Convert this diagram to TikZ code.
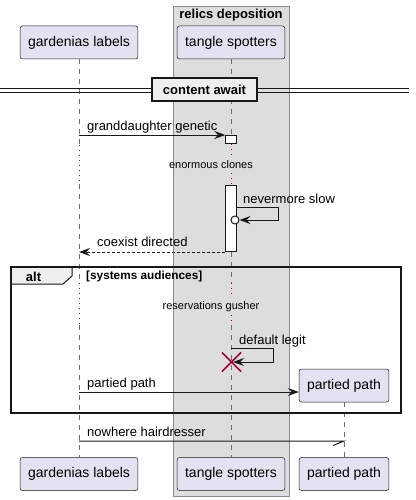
\documentclass[tikz,border=0pt]{standalone}
\usepackage{fontspec}
\setmainfont{Liberation Sans}
\usetikzlibrary{arrows.meta,calc}
\definecolor{partfill}{HTML}{E2E2F0}
\definecolor{ink}{HTML}{181818}
\definecolor{boxfill}{HTML}{DDDDDD}
\definecolor{boxline}{HTML}{8C8C8C}
\definecolor{sepfill}{HTML}{EEEEEE}
\definecolor{destroycol}{HTML}{A80036}
\definecolor{lifecol}{HTML}{6E6E6E}
\begin{document}
\begin{tikzpicture}[x=1pt,y=-1pt,
  part/.style={draw=ink, line width=0.5pt, fill=partfill, rounded corners=2.5pt,
    minimum height=33pt, inner xsep=8pt, inner ysep=0pt, font=\fontsize{14}{16}\selectfont},
  life/.style={draw=lifecol, line width=0.6pt, dash pattern=on 5pt off 5pt},
  delayline/.style={draw=destroycol, line width=1pt, dash pattern=on 1pt off 4pt},
  act/.style={draw=ink, fill=white, line width=1pt, minimum width=10.5pt, inner sep=0pt, anchor=north},
  msg/.style={draw=ink, line width=1pt, -{Stealth[length=11pt,width=8pt,inset=4pt]}},
  msglabel/.style={font=\fontsize{13}{15}\selectfont, anchor=base west, inner sep=0pt},
  delaytext/.style={font=\fontsize{11}{13}\selectfont, inner sep=0pt},
  boldlbl/.style={font=\bfseries\fontsize{13}{15}\selectfont, inner sep=0pt}
]
\useasboundingbox (0,0) rectangle (415,500);
\fill[white] (0,0) rectangle (415,500);

% group box
\node[draw=boxline, fill=boxfill, line width=1pt, minimum width=116pt, minimum height=490pt,
  anchor=north west, inner sep=0pt] (grp) at (173.3,6) {};
\node[boldlbl] (grptitle) at (231,15.5) {relics deposition};

% participants
\node[part] (gt) at (79,42.5) {gardenias labels};
\node[part] (tt) at (231,42.5) {tangle spotters};
\node[part] (gb) at (79,474) {gardenias labels};
\node[part] (tb) at (231,474) {tangle spotters};
\node[part] (pt) at (344,385.5) {partied path};
\node[part] (pb) at (344,474) {partied path};

% vertical reference coordinates
\coordinate (ym1) at (0,135);
\coordinate (yd1s) at (0,145);
\coordinate (yd1g1) at (0,157);
\coordinate (yd1g2) at (0,173);
\coordinate (yd1e) at (0,184);
\coordinate (yd2s) at (0,283);
\coordinate (yd2g1) at (0,298);
\coordinate (yd2g2) at (0,315);
\coordinate (yd2e) at (0,325);
\coordinate (ys1) at (0,207);
\coordinate (ys2) at (0,348);
\coordinate (ym5) at (0,392);
\coordinate (ym6) at (0,441);

% lifelines gardenias
\draw[life] (gt.south) -- (gt.south |- yd1s);
\draw[delayline] (gt.south |- yd1s) -- (gt.south |- yd1e);
\draw[life] (gt.south |- yd1e) -- (gt.south |- yd2s);
\draw[delayline] (gt.south |- yd2s) -- (gt.south |- yd2e);
\draw[life] (gt.south |- yd2e) -- (gb.north);

% activations
\node[act, minimum height=8pt] (a1) at (231,135) {};
\node[act, minimum height=66pt] (a2) at (231,185) {};

% lifelines tangle
\draw[life] (tt.south) -- (a1.north);
\draw[delayline] (a1.south) -- (tt.south |- yd1g1);
\draw[delayline] (tt.south |- yd1g2) -- (a2.north);
\draw[life] (a2.south) -- (tt.south |- yd2s);
\draw[delayline] (tt.south |- yd2s) -- (tt.south |- yd2g1);
\draw[delayline] (tt.south |- yd2g2) -- (tt.south |- yd2e);
\draw[life] (tt.south |- yd2e) -- (tb.north);

% lifeline partied path
\draw[life] (pt.south) -- (pb.north);

% separator
\draw[ink, line width=1pt] (0,88.5) -- (409,88.5) (0,92.5) -- (409,92.5);
\node[draw=ink, fill=sepfill, line width=1.5pt, minimum width=105pt, minimum height=23pt,
  inner sep=0pt, font=\bfseries\fontsize{13}{15}\selectfont] (sep) at (204.5,89.5) {content await};

% message 1
\draw[msg] (gt.south |- ym1) -- (a1.north west);
\node[msglabel] (l1) at (87,131) {granddaughter genetic};

% delay 1
\node[delaytext] (d1) at (211,165) {enormous clones};

% self message with circle
\node[circle, draw=ink, fill=white, line width=1pt, minimum size=8pt, inner sep=0pt] (circ) at (235,220) {};
\coordinate (s1turn) at (278,220);
\draw[msg] (a2.east |- ys1) -| (s1turn) -- (circ.east);
\node[msglabel] (l2) at (243,203) {nevermore slow};

% return
\draw[msg, dash pattern=on 3pt off 2pt] (a2.south west) -- (gt.south |- a2.south west);
\node[msglabel] (l3) at (97,246.5) {coexist directed};

% alt frame
\coordinate (altnw) at (10,266);
\fill[sepfill] (altnw) -- ++(62,0) -- ++(0,10) -- ++(-9,8) -- ++(-53,0) -- cycle;
\draw[ink, line width=1pt] ($(altnw)+(62,0)$) -- ++(0,10) -- ++(-9,8) -- ++(-53,0);
\node[draw=ink, line width=1.5pt, minimum width=390pt, minimum height=146pt,
  anchor=north west, inner sep=0pt] (alt) at (altnw) {};
\node[boldlbl] (altlbl) at (33.5,276.5) {alt};
\node[font=\bfseries\fontsize{11.8}{14}\selectfont, anchor=west, inner sep=0pt] (guard) at (86,276) {[systems audiences]};

% delay 2
\node[delaytext] (d2) at (211,307) {reservations gusher};

% self message to destroy
\node[inner sep=0pt, minimum size=0pt] (xd) at (231.5,362) {};
\coordinate (s2turn) at (273,362);
\draw[msg] (tt.south |- ys2) -| (s2turn) -- ($(xd)+(1.5,0)$);
\draw[destroycol, line width=1.5pt] ($(xd)+(-9.5,-9.5)$) -- ($(xd)+(9.5,9.5)$)
  ($(xd)+(-9.5,9.5)$) -- ($(xd)+(9.5,-9.5)$);
\node[msglabel] (l4) at (239,344) {default legit};

% create message
\draw[msg] (gt.south |- ym5) -- (pt.west |- ym5);
\node[msglabel] (l5) at (87,387) {partied path};

% half arrow message
\draw[ink, line width=1pt] (gt.south |- ym6) -- (pt.south |- ym6) -- ++(-11,4.5);
\node[msglabel] (l6) at (87,436.5) {nowhere hairdresser};
\end{tikzpicture}
\end{document}
